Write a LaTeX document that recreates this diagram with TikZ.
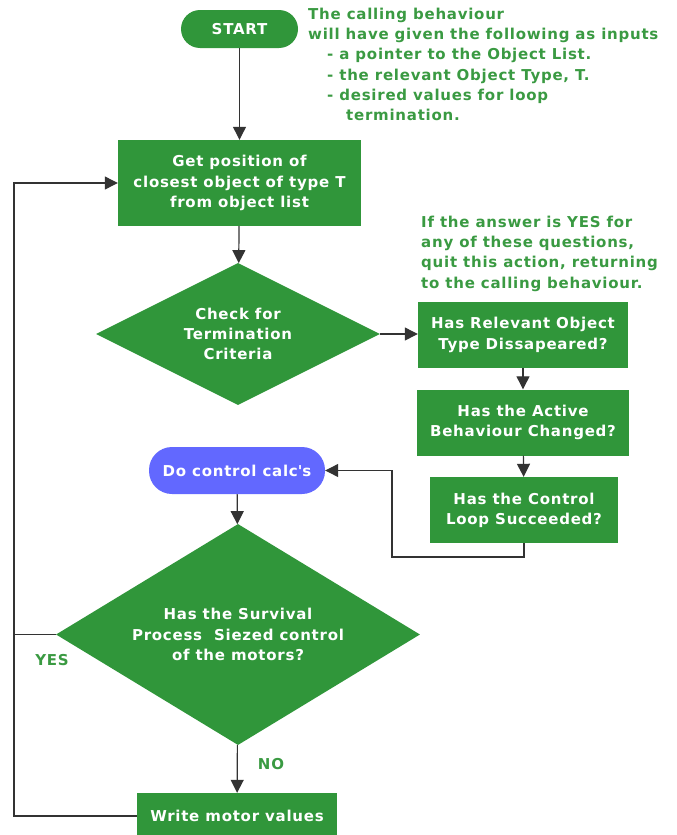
\documentclass[tikz,border=0pt]{standalone}
\usepackage{fontspec}
\setmainfont[LetterSpace=5]{DejaVu Sans}
\usetikzlibrary{shapes.geometric,arrows.meta}
\definecolor{boxgreen}{HTML}{30963A}
\definecolor{notegreen}{HTML}{3A9A42}
\definecolor{calcblue}{HTML}{6268FF}
\begin{document}
\begin{tikzpicture}[x=1pt,y=-1pt]
	\tikzstyle{proc} = [rectangle, fill=boxgreen, text=white, align=center, inner sep=0pt, font=\fs]
	\tikzstyle{decide} = [diamond, fill=boxgreen, inner sep=0pt]
	\tikzstyle{inside} = [text=white, align=center, font=\fs]
	\tikzstyle{term} = [rectangle, text=white, align=center, inner sep=0pt, font=\fs]
	\tikzstyle{note} = [text=notegreen, align=left, inner sep=0pt, anchor=north west, font=\fs]
	\tikzstyle{edge} = [draw=black!80, line width=1.2pt]
	\tikzstyle{arrow} = [edge, -{Triangle[length=13pt,width=13pt]}]
\def\fs{\fontsize{15}{20.2}\selectfont\bfseries}
\def\loopx{14}

\useasboundingbox (0,0) rectangle (677,835);

%start and notes
\node[term, fill=boxgreen, rounded corners=19pt, minimum width=117pt, minimum height=38pt] (start) at (239.5,29) {START};
\node[note] (inputs) at (308,8) {The calling behaviour\\will have given the following as inputs\\
	\hspace*{19pt}- a pointer to the Object List.\\
	\hspace*{19pt}- the relevant Object Type, T.\\
	\hspace*{19pt}- desired values for loop\\
	\hspace*{38pt}termination.};

\node[proc, minimum width=243pt, minimum height=86pt] (getpos) at (239.5,183) {Get position of\\closest object of type T\\from object list};
\node[decide, minimum width=284pt, minimum height=142pt, label={[inside]center:{Check for\\Termination\\Criteria}}] (check) at (238,334) {};

\draw[arrow] (start) -- (getpos);
\draw[arrow] (getpos) -- (check);

%termination questions
\node[note] (quit) at (421,216) {If the answer is YES for\\any of these questions,\\quit this action, returning\\to the calling behaviour.};

\foreach \name/\x/\y/\w/\txt in {q1/523/335/210/{Has Relevant Object\\Type Dissapeared?}, q2/523/422.5/212/{Has the Active\\Behaviour Changed?}, q3/524/510/188/{Has the Control\\Loop Succeeded?}}
	\node[proc, minimum width=\w pt, minimum height=66pt] (\name) at (\x,\y) {\txt};

\draw[arrow] (check.east) -- (q1.west |- check.east);
\foreach \from/\to in {q1/q2, q2/q3}
	\draw[arrow] (\from) -- (\to);

%control loop
\node[term, fill=calcblue, rounded corners=23pt, minimum width=176pt, minimum height=47pt] (calc) at (237,470.5) {Do control calc{\addfontfeature{Ligatures=TeXOff}'}s};
\coordinate (back) at (392,557);
\draw[arrow] (q3.south) |- (back) |- (calc.east);

\node[decide, minimum width=364pt, minimum height=221pt, label={[inside]center:{Has the Survival\\Process\ \ Siezed control\\of the motors?}}] (survive) at (238,634.5) {};
\node[proc, minimum width=200pt, minimum height=46pt] (write) at (237,816) {Write motor values};

\draw[arrow] (calc) -- (survive);
\draw[arrow] (survive) -- (write);

\node[text=notegreen, font=\fs] (yes) at (52,660) {YES};
\node[text=notegreen, font=\fs] (no) at (271,764) {NO};

\coordinate (left) at (\loopx,0);
\draw[edge] (survive.west) -- (left |- survive.west);
\draw[arrow] (write.west) -| (left |- getpos.west) -- (getpos.west);
\end{tikzpicture}
\end{document}
